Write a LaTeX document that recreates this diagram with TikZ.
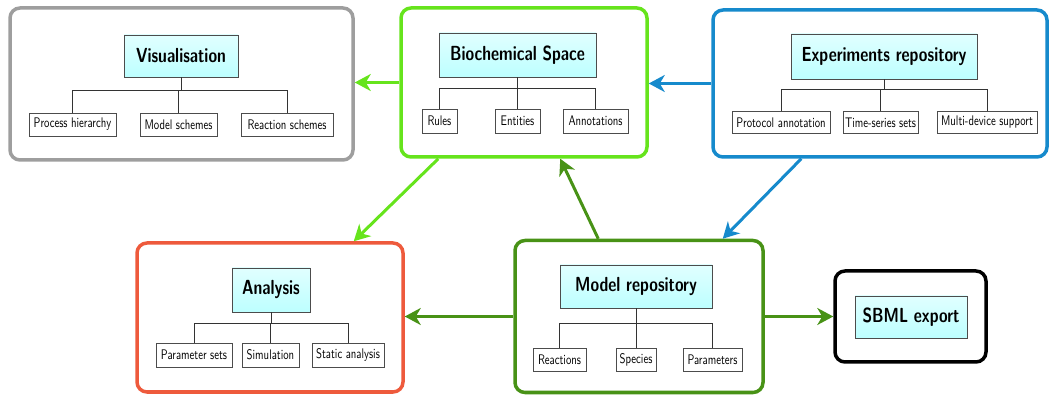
\documentclass[tikz,border=0pt]{standalone}
\usetikzlibrary{arrows.meta}

\definecolor{visgray}{RGB}{158,158,158}
\definecolor{bsgreen}{RGB}{102,228,28}
\definecolor{expblue}{RGB}{22,138,204}
\definecolor{anred}{RGB}{238,90,60}
\definecolor{mrgreen}{RGB}{72,146,22}

% labels are set in a tall, narrow cut
\newcommand{\tallbox}[1]{\scalebox{1}[1.3]{#1}}

\tikzset{
  module/.style={draw=#1, line width=3.5pt, rounded corners=10pt, fill=white},
  title/.style={draw=black!70, line width=0.8pt, top color=cyan!12, bottom color=cyan!26,
    font=\sffamily\bfseries\fontsize{15.7}{18}\selectfont, inner sep=0pt},
  leaf/.style={draw=black!70, line width=0.7pt, fill=white,
    font=\sffamily\fontsize{10.7}{12}\selectfont, inner sep=0pt},
  tree/.style={draw=black!80, line width=0.7pt},
  flow/.style={draw=#1, line width=3pt, -{Stealth[length=16pt,width=17pt,inset=5pt]}},
}

\begin{document}
\begin{tikzpicture}[x=1pt,y=-1pt]
\useasboundingbox (0,0) rectangle (1050,395);

% module frames
\node[module=visgray, minimum width=343, minimum height=152] (vis) at (181.5,84) {};
\node[module=bsgreen, minimum width=246, minimum height=149] (bs) at (524,82.5) {};
\node[module=expblue, minimum width=334, minimum height=147] (exp) at (880,83.5) {};
\node[module=anred,   minimum width=266, minimum height=149] (an) at (270,317.5) {};
\node[module=mrgreen, minimum width=248, minimum height=152] (mr) at (639,316.5) {};
\node[module=black,   minimum width=151, minimum height=91]  (sb) at (910.5,316.5) {};

% Visualisation
\node[title, minimum width=114, minimum height=42] (vt) at (181,56) {\tallbox{Visualisation}};
\node[leaf, minimum width=87, minimum height=23] (v1) at (72.5,124.5) {\tallbox{Process hierarchy}};
\node[leaf, minimum width=77, minimum height=23] (v2) at (178.5,124.5) {\tallbox{Model schemes}};
\node[leaf, minimum width=92, minimum height=23] (v3) at (287,124.5) {\tallbox{Reaction schemes}};
\draw[tree] (vt.south) -- ++(0,13) coordinate (vb);
\draw[tree] (vb) -| (v1.north);
\draw[tree] (vb) -| (v2.north);
\draw[tree] (vb) -| (v3.north);

% Biochemical Space
\node[title, minimum width=157, minimum height=44] (bt) at (517.5,55) {\tallbox{Biochemical Space}};
\node[leaf, minimum width=35, minimum height=24] (b1) at (439.5,121) {\tallbox{Rules}};
\node[leaf, minimum width=45, minimum height=24] (b2) at (517.5,121) {\tallbox{Entities}};
\node[leaf, minimum width=65, minimum height=24] (b3) at (595.5,121) {\tallbox{Annotations}};
\draw[tree] (bt.south) -- ++(0,11) coordinate (bb);
\draw[tree] (bb) -| (b1.north);
\draw[tree] (bb) -| (b2.north);
\draw[tree] (bb) -| (b3.north);

% Experiments repository
\node[title, minimum width=186, minimum height=45] (et) at (884,56.5) {\tallbox{Experiments repository}};
\node[leaf, minimum width=98,  minimum height=22] (e1) at (781,122.5) {\tallbox{Protocol annotation}};
\node[leaf, minimum width=75,  minimum height=22] (e2) at (880.5,122.5) {\tallbox{Time-series sets}};
\node[leaf, minimum width=100, minimum height=22] (e3) at (987,122.5) {\tallbox{Multi-device support}};
\draw[tree] (et.south) -- ++(0,10) coordinate (eb);
\draw[tree] (eb) -| (e1.north);
\draw[tree] (eb) -| (e2.north);
\draw[tree] (eb) -| (e3.north);

% Analysis
\node[title, minimum width=78, minimum height=44] (at) at (271,290) {\tallbox{Analysis}};
\node[leaf, minimum width=76, minimum height=24] (a1) at (194,355) {\tallbox{Parameter sets}};
\node[leaf, minimum width=57, minimum height=24] (a2) at (270.5,355) {\tallbox{Simulation}};
\node[leaf, minimum width=72, minimum height=24] (a3) at (348,355) {\tallbox{Static analysis}};
\draw[tree] (at.south) -- ++(0,11) coordinate (ab);
\draw[tree] (ab) -| (a1.north);
\draw[tree] (ab) -| (a2.north);
\draw[tree] (ab) -| (a3.north);

% Model repository
\node[title, minimum width=152, minimum height=43] (mt) at (636,286.5) {\tallbox{Model repository}};
\node[leaf, minimum width=53, minimum height=23] (m1) at (559.5,359.5) {\tallbox{Reactions}};
\node[leaf, minimum width=40, minimum height=23] (m2) at (636,359.5) {\tallbox{Species}};
\node[leaf, minimum width=59, minimum height=23] (m3) at (712.5,359.5) {\tallbox{Parameters}};
\draw[tree] (mt.south) -- ++(0,15) coordinate (mb);
\draw[tree] (mb) -| (m1.north);
\draw[tree] (mb) -| (m2.north);
\draw[tree] (mb) -| (m3.north);

% SBML export
\node[title, minimum width=112, minimum height=42] (st) at (911,317) {\tallbox{SBML export}};

% data flow between modules
\draw[flow=bsgreen] (bs.west) -- (bs.west -| vis.east);
\draw[flow=expblue] (exp.west) -- (exp.west -| bs.east);
\draw[flow=bsgreen] ([xshift=39pt]bs.south west) -- ([xshift=-51pt]an.north east);
\draw[flow=mrgreen] ([xshift=85pt]mr.north west) -- ([xshift=161pt]bs.south west);
\draw[flow=expblue] ([xshift=90pt]exp.south west) -- ([xshift=-42pt]mr.north east);
\draw[flow=mrgreen] (mr.west) -- (mr.west -| an.east);
\draw[flow=mrgreen] (mr.east) -- (mr.east -| sb.west);
\end{tikzpicture}
\end{document}
